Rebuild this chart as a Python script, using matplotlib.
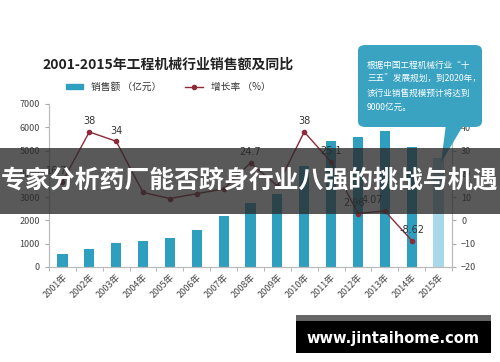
import numpy as np
import matplotlib
matplotlib.use('Agg')
import matplotlib.pyplot as plt
from matplotlib.patches import Rectangle, FancyBboxPatch, Polygon
from matplotlib.lines import Line2D

plt.rcParams['font.family'] = ['Noto Sans CJK SC', 'DejaVu Sans']

# Data
years = ['2001年', '2002年', '2003年', '2004年', '2005年', '2006年', '2007年', '2008年',
         '2009年', '2010年', '2011年', '2012年', '2013年', '2014年', '2015年']
sales = [550, 770, 1020, 1130, 1245, 1590, 2200, 2740, 3155, 4350, 5430, 5580, 5850, 5150, 4680]
growth = [16.7, 38, 34, 12.0, 9.4, 11.5, 13.5, 24.7, 14.8, 38, 25.1, 2.96, 4.07, -8.62]
growth_labels = {0: '16.7', 1: '38', 2: '34', 7: '24.7', 9: '38', 10: '25.1',
                 11: '2.96', 12: '4.07', 13: '-8.62'}
left_ticks = [0, 1000, 2000, 3000, 4000, 5000, 6000, 7000]
right_ticks = [-20, -10, 0, 10, 20, 30, 40]

W, H = 500, 362
fig = plt.figure(figsize=(W / 100, H / 100), dpi=100)
fig.patch.set_facecolor('white')

def fx(x):
    return x / W

def fy(y):
    return 1 - y / H

ax = fig.add_axes([fx(49), fy(267), fx(452) - fx(49), fy(104) - fy(267)])
ax2 = ax.twinx()

x = np.arange(len(years))
bar_colors = ['#2f9fc0'] * (len(years) - 1) + ['#a9d9e8']
ax.bar(x, sales, width=0.38, color=bar_colors, zorder=2)
ax.set_xlim(-0.5, len(years) - 0.5)
ax.set_ylim(0, 7000)
ax.set_yticks(left_ticks)
ax.set_xticks(x)
ax.set_xticklabels(years, rotation=45, ha='right', rotation_mode='anchor', fontsize=6.5, color='#444')
ax.set_xticks(np.arange(-0.5, len(years)), minor=True)
ax.tick_params(axis='x', which='major', length=0, pad=4)
ax.tick_params(axis='x', which='minor', length=3, color='#aaa')
ax.tick_params(axis='y', labelsize=6.5, labelcolor='#444', length=3, color='#aaa')

ax2.plot(x[:len(growth)], growth, '-o', color='#8c2a3a', lw=1, ms=3, zorder=3)
ax2.set_ylim(-20, 50)
ax2.set_yticks(right_ticks)
ax2.tick_params(axis='y', labelsize=6.5, labelcolor='#444', length=3, color='#aaa')
offsets = {0: -4, 11: -3, 12: -9}
for i, lab in growth_labels.items():
    ax2.annotate(lab, (x[i], growth[i]), xytext=(offsets.get(i, 0), 4), textcoords='offset points',
                 ha='center', va='bottom', fontsize=7, color='#333', family='DejaVu Sans')

for a in (ax, ax2):
    a.spines['top'].set_visible(False)
    for s in ('left', 'right', 'bottom'):
        a.spines[s].set_color('#bbb')
        a.spines[s].set_linewidth(0.8)

# Title and legend
fig.text(fx(168), fy(65), '2001-2015年工程机械行业销售额及同比', ha='center', va='center',
         fontsize=10, fontweight='bold', color='#222')
handles = [Rectangle((0, 0), 1, 1, color='#2f9fc0'),
           Line2D([], [], color='#8c2a3a', marker='o', ms=3, lw=1)]
fig.legend(handles, ['销售额 （亿元）', '增长率 （%）'], loc='center', ncol=2,
           bbox_to_anchor=(fx(168), fy(87)), frameon=False, fontsize=7,
           handlelength=1.8, handleheight=0.5, columnspacing=2.5, labelcolor='#333')

# Callout box
callout_color = '#3aa3c2'
fig.add_artist(FancyBboxPatch((fx(358), fy(127)), fx(482) - fx(358), fy(45) - fy(127),
                              boxstyle='round,pad=0,rounding_size=0.015',
                              transform=fig.transFigure, facecolor=callout_color,
                              edgecolor='none', zorder=10))
fig.add_artist(Polygon([(fx(446), fy(124)), (fx(464), fy(124)), (fx(441), fy(163))],
                       closed=True, transform=fig.transFigure, facecolor=callout_color,
                       edgecolor='none', zorder=10))
fig.text(fx(367), fy(86), '根据中国工程机械行业“十\n三五”发展规划，到2020年，\n该行业销售规模预计将达到\n9000亿元。',
         ha='left', va='center', fontsize=6.2, color='white', linespacing=1.7, zorder=11)

# Overlay banner
fig.add_artist(Rectangle((0, fy(214)), 1, fy(148) - fy(214), transform=fig.transFigure,
                         facecolor='#2a2a2a', alpha=0.78, edgecolor='none', zorder=20))
fig.text(0.5, fy(181), '专家分析药厂能否跻身行业八强的挑战与机遇', ha='center', va='center',
         fontsize=17.9, fontweight='bold', color='white', zorder=21)

# Watermark
fig.add_artist(Rectangle((fx(296), fy(353)), fx(491) - fx(296), fy(315) - fy(353),
                         transform=fig.transFigure, facecolor='black', edgecolor='none', zorder=20))
fig.add_artist(Rectangle((fx(296), fy(321)), fx(491) - fx(296), fy(315) - fy(321),
                         transform=fig.transFigure, facecolor='#666', edgecolor='none', zorder=21))
fig.text(fx(393), fy(338), 'www.jintaihome.com', ha='center', va='center', fontsize=10.5,
         fontweight='bold', color='white', family='DejaVu Sans', zorder=22)

fig.savefig('out.png', dpi=100)
